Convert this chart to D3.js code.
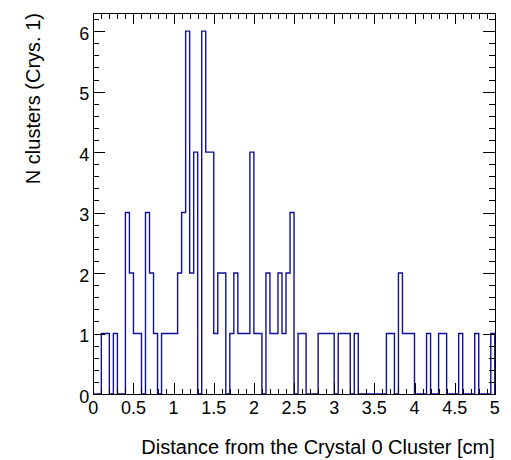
<!DOCTYPE html>
<html>
<head>
<meta charset="utf-8">
<script src="https://cdn.jsdelivr.net/npm/d3@7"></script>
<style>
  html, body { margin: 0; padding: 0; background: #fff; }
  svg { display: block; font-family: "Liberation Sans", Arial, Helvetica, sans-serif; }
</style>
</head>
<body>
<svg id="chart" width="511" height="460"></svg>
<script>
// Histogram: 100 bins of width 0.05 cm over [0, 5]
const binLow = 0;
const binHigh = 5;
const binCounts = [
  0, 0, 1, 1, 0, 1, 0, 0, 3, 2,
  1, 1, 0, 3, 2, 1, 0, 1, 1, 1,
  1, 2, 3, 6, 2, 4, 0, 6, 4, 4,
  1, 2, 2, 0, 1, 2, 1, 1, 1, 4,
  1, 1, 0, 2, 1, 1, 2, 1, 2, 3,
  0, 1, 1, 0, 0, 0, 1, 1, 1, 1,
  0, 1, 1, 1, 0, 1, 0, 0, 0, 0,
  0, 0, 0, 1, 1, 0, 2, 1, 1, 1,
  0, 0, 0, 1, 0, 0, 1, 1, 0, 0,
  0, 1, 0, 0, 0, 1, 0, 0, 0, 1
];
const yMax = 6.3;
const xTickLabels = ["0", "0.5", "1", "1.5", "2", "2.5", "3", "3.5", "4", "4.5", "5"];
const yTickLabels = ["0", "1", "2", "3", "4", "5", "6"];
const xTitle = "Distance from the Crystal 0 Cluster [cm]";
const yTitle = "N clusters (Crys. 1)";

const frame = { left: 93.3, right: 494.8, top: 13, bottom: 394 };
const svg = d3.select("#chart");

const x = d3.scaleLinear().domain([binLow, binHigh]).range([frame.left, frame.right]);
const y = d3.scaleLinear().domain([0, yMax]).range([frame.bottom, frame.top]);

// Outline of the histogram as steps
const nBins = binCounts.length;
const binWidth = (binHigh - binLow) / nBins;
const pts = [[binLow, 0]];
binCounts.forEach((c, i) => {
  pts.push([binLow + i * binWidth, c]);
  pts.push([binLow + (i + 1) * binWidth, c]);
});
pts.push([binHigh, 0]);

const line = d3.line().x(d => x(d[0])).y(d => y(d[1]));
svg.append("path")
  .attr("d", line(pts))
  .attr("fill", "none")
  .attr("stroke", "#10109a")
  .attr("stroke-width", 1.4);

// Ticks on all four sides, pointing inward
const g = svg.append("g").attr("stroke", "#000").attr("stroke-width", 1).attr("shape-rendering", "crispEdges");
const xMajor = xTickLabels.map(Number);
const xMinor = d3.range(0, 51).map(i => i / 10).filter(v => !xMajor.some(m => Math.abs(m - v) < 1e-9));
const yMajor = yTickLabels.map(Number);
const yMinor = d3.range(0, 32).map(i => i / 5).filter(v => v <= yMax && !yMajor.some(m => Math.abs(m - v) < 1e-9));

function xTicks(vals, len) {
  vals.forEach(v => {
    const px = Math.round(x(v)) + 0.5;
    g.append("line").attr("x1", px).attr("x2", px).attr("y1", frame.bottom).attr("y2", frame.bottom - len);
    g.append("line").attr("x1", px).attr("x2", px).attr("y1", frame.top).attr("y2", frame.top + len);
  });
}
function yTicks(vals, len) {
  vals.forEach(v => {
    const py = Math.round(y(v)) + 0.5;
    g.append("line").attr("x1", frame.left).attr("x2", frame.left + len).attr("y1", py).attr("y2", py);
    g.append("line").attr("x1", frame.right).attr("x2", frame.right - len).attr("y1", py).attr("y2", py);
  });
}
xTicks(xMajor, 11);
xTicks(xMinor, 5.5);
yTicks(yMajor, 12);
yTicks(yMinor, 6);

// Frame
svg.append("rect")
  .attr("x", Math.round(frame.left) + 0.5)
  .attr("y", Math.round(frame.top) + 0.5)
  .attr("width", Math.round(frame.right) - Math.round(frame.left))
  .attr("height", Math.round(frame.bottom) - Math.round(frame.top))
  .attr("fill", "none")
  .attr("stroke", "#000")
  .attr("stroke-width", 1)
  .attr("shape-rendering", "crispEdges");

// Tick labels
svg.append("g").selectAll("text").data(xTickLabels).join("text")
  .attr("x", d => x(+d))
  .attr("y", frame.bottom + 20)
  .attr("text-anchor", "middle")
  .attr("font-size", 18)
  .text(d => d);

svg.append("g").selectAll("text").data(yTickLabels).join("text")
  .attr("x", frame.left - 4)
  .attr("y", d => y(+d) + 8.5)
  .attr("text-anchor", "end")
  .attr("font-size", 18)
  .text(d => d);

// Axis titles
svg.append("text")
  .attr("x", frame.right)
  .attr("y", 454)
  .attr("text-anchor", "end")
  .attr("font-size", 20)
  .text(xTitle);

svg.append("text")
  .attr("transform", `translate(40, ${frame.top}) rotate(-90)`)
  .attr("text-anchor", "end")
  .attr("font-size", 20)
  .text(yTitle);
</script>
</body>
</html>
